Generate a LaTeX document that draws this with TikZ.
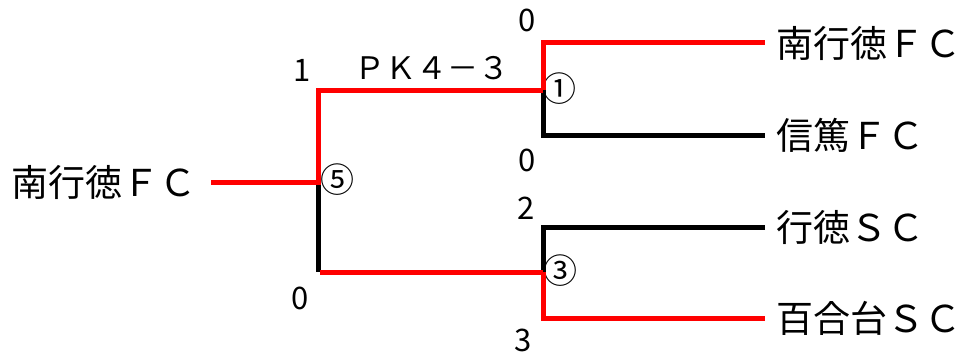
\documentclass[tikz,border=0pt]{standalone}
\usepackage{fontspec}
\setmainfont{Noto Sans CJK JP}
\definecolor{win}{RGB}{255,0,0}
\tikzset{
  team/.style={inner sep=0pt, font=\fontsize{37}{40}\selectfont},
  score/.style={inner sep=0pt, font=\fontsize{31}{34}\selectfont},
  matchno/.style={inner sep=0pt, font=\fontsize{34}{36}\selectfont},
  pkstyle/.style={inner sep=0pt, font=\fontsize{31}{34}\selectfont},
  winline/.style={draw=win, line width=5pt},
  loseline/.style={draw=black, line width=5pt},
}
\begin{document}
\begin{tikzpicture}[x=1pt,y=-1pt]
\useasboundingbox (0,0) rectangle (965,353);
% coordinates
\coordinate (f5) at (318,182);
\coordinate (f5t) at (318,90);
\coordinate (f5b) at (318,272);
\coordinate (s1) at (543,90);
\coordinate (s1t) at (543,43);
\coordinate (s1b) at (543,135);
\coordinate (s3) at (543,272);
\coordinate (s3t) at (543,227);
\coordinate (s3b) at (543,318);
% teams
\node[team, anchor=west] (champ) at (11,182) {南行徳ＦＣ};
\node[team, anchor=west] (t1) at (776,43) {南行徳ＦＣ};
\node[team, anchor=west] (t2) at (776,135) {信篤ＦＣ};
\node[team, anchor=west] (t3) at (776,227) {行徳ＳＣ};
\node[team, anchor=west] (t4) at (776,318) {百合台ＳＣ};
% match numbers
\node[matchno] (n5) at (337,180) {⑤};
\node[matchno] (n1) at (559,89) {①};
\node[matchno] (n3) at (560,271) {③};
% scores
\node[score] (sc1) at (302,70) {1};
\node[score] (sc0) at (300,298) {0};
\node[score] (sct1) at (527,20) {0};
\node[score] (scb1) at (527,160) {0};
\node[score] (sct3) at (526,208) {2};
\node[score] (scb3) at (523,340) {3};
\node[pkstyle] (pk) at (432,68) {ＰＫ４－３};
% lines
\draw[loseline] (f5) -- (f5b);
\draw[loseline] (s1) -- (s1b) -- ([xshift=-11pt]t2.west);
\draw[loseline] ([xshift=-11pt]t3.west) -- (s3t) -- (s3);
\draw[winline] ([xshift=15pt]champ.east) -- (f5) -- (f5t) -- (s1);
\draw[winline] ([xshift=2pt]f5b) -- (s3);
\draw[winline] (s1) -- (s1t) -- ([xshift=-11pt]t1.west);
\draw[winline] (s3) -- (s3b) -- ([xshift=-11pt]t4.west);
\end{tikzpicture}
\end{document}
